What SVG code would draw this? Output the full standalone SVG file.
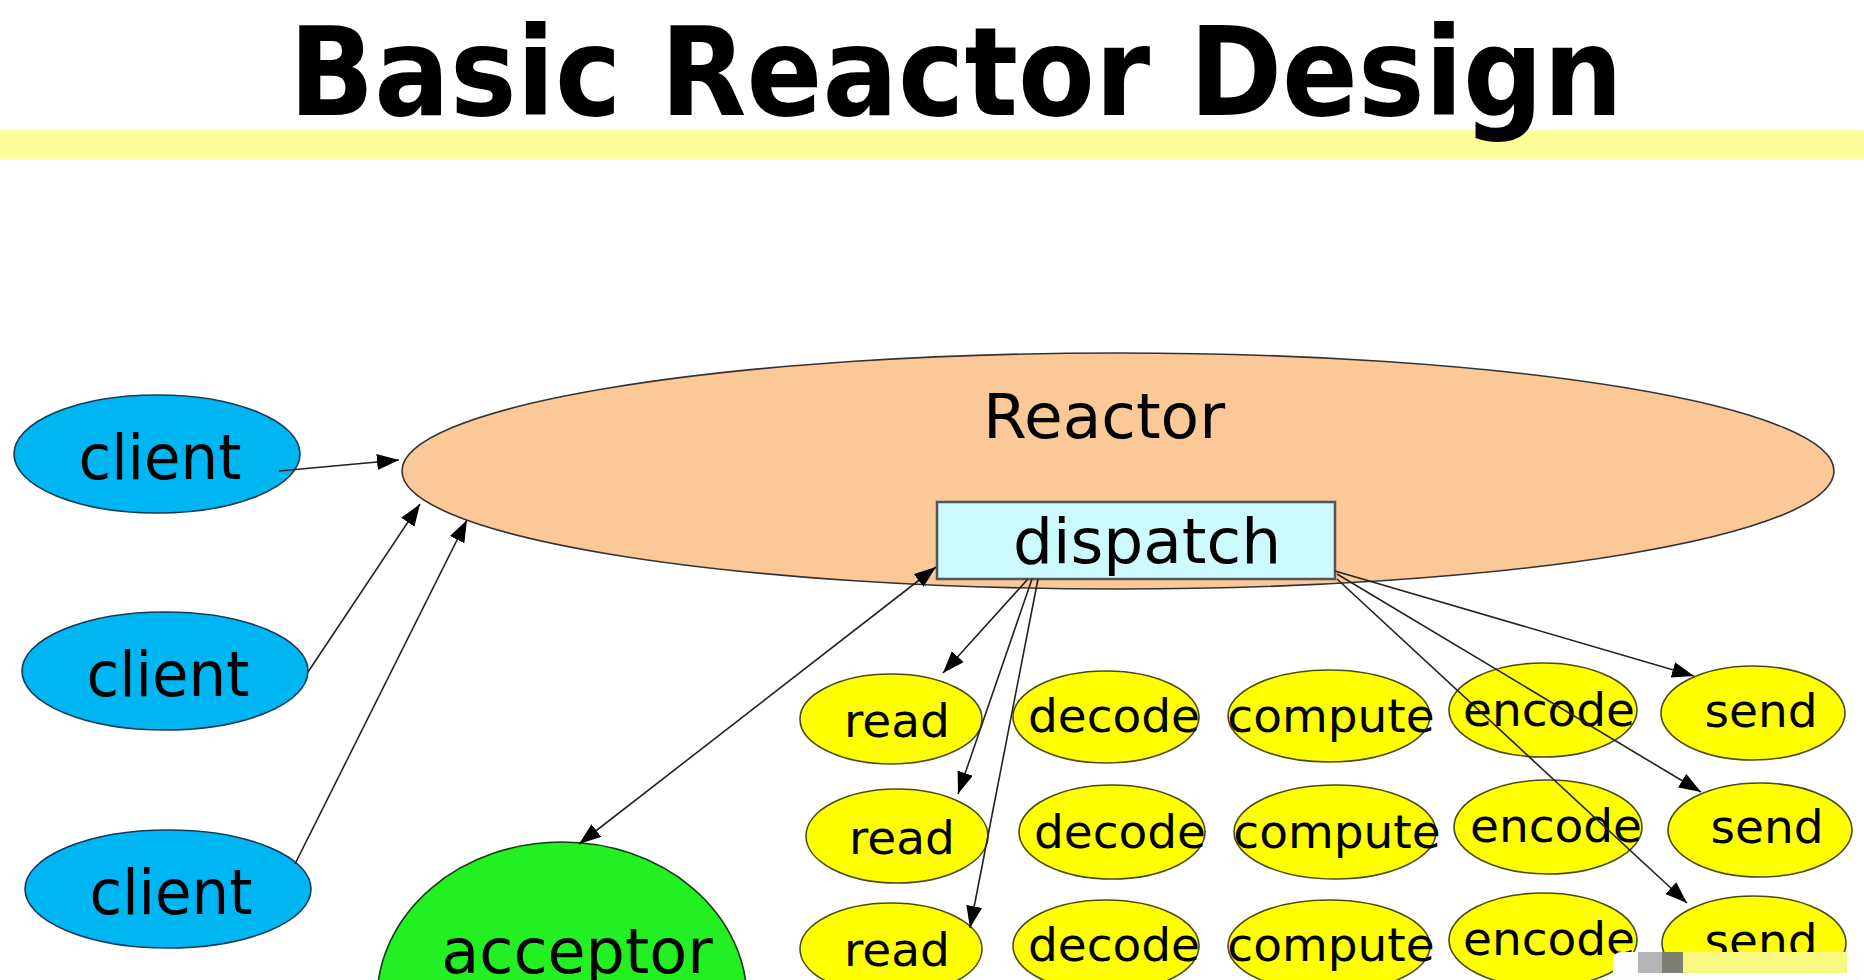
<svg xmlns="http://www.w3.org/2000/svg" width="1864" height="980" viewBox="0 0 1864 980">
<defs>
<style>
.lbl{font-family:"DejaVu Sans","Verdana",sans-serif;fill:#000;text-anchor:middle}
.client{fill:#00b6f2;stroke:#143a55;stroke-width:1.6}
.yel{fill:#ffff00;stroke:#4a4a1a;stroke-width:1.6}
.yt{font-size:47px}
.conn{stroke:#222;stroke-width:1.6;fill:none}
</style>
<marker id="ah" markerUnits="userSpaceOnUse" markerWidth="24" markerHeight="18" refX="22" refY="8" orient="auto-start-reverse">
<path d="M0,0 L22,8 L0,16 z" fill="#000"/>
</marker>
<linearGradient id="band" x1="0" y1="0" x2="0" y2="1">
<stop offset="0" stop-color="#fefeb0"/>
<stop offset="0.2" stop-color="#fdfd98"/>
<stop offset="0.85" stop-color="#fdfd98"/>
<stop offset="1" stop-color="#fefec0"/>
</linearGradient>
</defs>
<rect width="1864" height="980" fill="#ffffff"/>
<rect x="0" y="130" width="1864" height="30" fill="url(#band)"/>
<text x="289" y="115" font-family="DejaVu Sans,Verdana,sans-serif" font-weight="bold" font-size="123" textLength="1334" lengthAdjust="spacingAndGlyphs">Basic Reactor Design</text>

<g id="reactor">
<ellipse cx="1118" cy="471" rx="716" ry="118" fill="#fbc998" stroke="#333" stroke-width="1.6"/>
<text class="lbl" x="1104" y="438" font-size="63">Reactor</text>
</g>
<g id="dispatch">
<rect x="937" y="502" width="398" height="77" fill="#ccfaff" stroke="#555" stroke-width="2.5"/>
<text class="lbl" x="1147" y="563" font-size="63">dispatch</text>
</g>

<g id="client1"><ellipse class="client" cx="157" cy="454" rx="143" ry="59"/><text class="lbl" x="160" y="479" font-size="62" textLength="163" lengthAdjust="spacingAndGlyphs">client</text></g>
<g id="client2"><ellipse class="client" cx="165" cy="671" rx="143" ry="59"/><text class="lbl" x="168" y="696" font-size="62" textLength="163" lengthAdjust="spacingAndGlyphs">client</text></g>
<g id="client3"><ellipse class="client" cx="168" cy="889" rx="143" ry="59"/><text class="lbl" x="171" y="914" font-size="62" textLength="163" lengthAdjust="spacingAndGlyphs">client</text></g>

<g id="acceptor"><ellipse cx="562" cy="1000" rx="185" ry="158" fill="#22f022" stroke="#1a3a1a" stroke-width="1.6"/><text class="lbl" x="577" y="973" font-size="62">acceptor</text></g>

<g id="read1"><ellipse class="yel" cx="891" cy="719" rx="91" ry="45"/><text class="lbl yt" x="897" y="737">read</text></g>
<g id="decode1"><ellipse class="yel" cx="1106" cy="717" rx="93" ry="46"/><text class="lbl yt" x="1114" y="732">decode</text></g>
<g id="compute1"><ellipse class="yel" cx="1329" cy="716" rx="101" ry="46"/><text class="lbl yt" x="1331" y="732" font-size="46">compute</text></g>
<g id="encode1"><ellipse class="yel" cx="1543" cy="710" rx="94" ry="47"/><text class="lbl yt" x="1549" y="726">encode</text></g>
<g id="send1"><ellipse class="yel" cx="1753" cy="713" rx="92" ry="47"/><text class="lbl yt" x="1761" y="727">send</text></g>

<g id="read2"><ellipse class="yel" cx="897" cy="836" rx="91" ry="47"/><text class="lbl yt" x="902" y="854">read</text></g>
<g id="decode2"><ellipse class="yel" cx="1112" cy="832" rx="93" ry="47"/><text class="lbl yt" x="1120" y="848">decode</text></g>
<g id="compute2"><ellipse class="yel" cx="1335" cy="832" rx="101" ry="47"/><text class="lbl yt" x="1337" y="848" font-size="46">compute</text></g>
<g id="encode2"><ellipse class="yel" cx="1548" cy="827" rx="94" ry="47"/><text class="lbl yt" x="1556" y="842">encode</text></g>
<g id="send2"><ellipse class="yel" cx="1760" cy="830" rx="92" ry="47"/><text class="lbl yt" x="1767" y="843">send</text></g>

<g id="read3"><ellipse class="yel" cx="891" cy="949" rx="91" ry="46"/><text class="lbl yt" x="897" y="966">read</text></g>
<g id="decode3"><ellipse class="yel" cx="1106" cy="946" rx="93" ry="46"/><text class="lbl yt" x="1114" y="961">decode</text></g>
<g id="compute3"><ellipse class="yel" cx="1329" cy="946" rx="101" ry="46"/><text class="lbl yt" x="1331" y="961" font-size="46">compute</text></g>
<g id="encode3"><ellipse class="yel" cx="1543" cy="940" rx="94" ry="47"/><text class="lbl yt" x="1549" y="955">encode</text></g>
<g id="send3"><ellipse class="yel" cx="1754" cy="943" rx="92" ry="47"/><text class="lbl yt" x="1761" y="957">send</text></g>

<g id="connectors">
<line class="conn" x1="279" y1="471" x2="399" y2="460" marker-end="url(#ah)"/>
<line class="conn" x1="308" y1="672" x2="420" y2="504" marker-end="url(#ah)"/>
<line class="conn" x1="295" y1="864" x2="467" y2="520" marker-end="url(#ah)"/>
<line class="conn" x1="579" y1="844" x2="936" y2="567" marker-start="url(#ah)" marker-end="url(#ah)"/>
<line class="conn" x1="1028" y1="579" x2="943" y2="673" marker-end="url(#ah)"/>
<line class="conn" x1="1032" y1="579" x2="958" y2="794" marker-end="url(#ah)"/>
<line class="conn" x1="1038" y1="579" x2="970" y2="928" marker-end="url(#ah)"/>
<line class="conn" x1="1335" y1="571" x2="1694" y2="676" marker-end="url(#ah)"/>
<line class="conn" x1="1337" y1="574" x2="1701" y2="792" marker-end="url(#ah)"/>
<line class="conn" x1="1337" y1="579" x2="1687" y2="903" marker-end="url(#ah)"/>
</g>

<g id="watermark">
<rect x="1613" y="952" width="251" height="28" rx="8" fill="#fdfdfd"/>
<rect x="1638" y="952" width="24" height="21" fill="#b4b4b4"/>
<rect x="1662" y="952" width="21" height="21" fill="#7d8070"/>
<rect x="1683" y="952" width="164" height="21" fill="#f8f880"/>
</g>
</svg>
